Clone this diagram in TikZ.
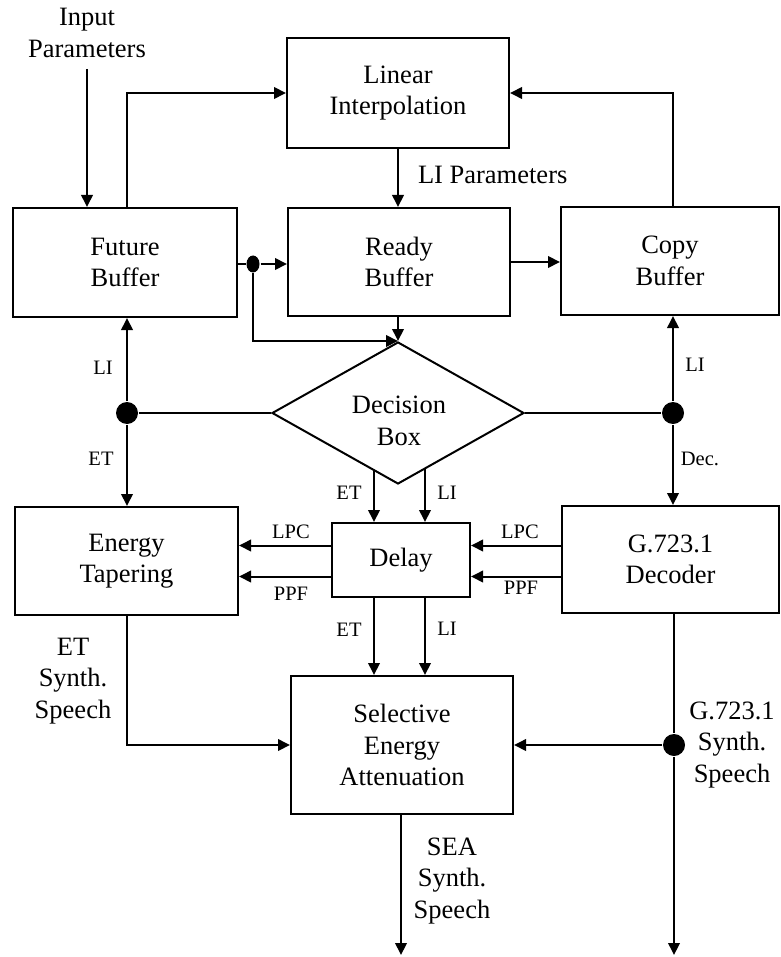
\documentclass[tikz,border=0pt]{standalone}
\usepackage{fontspec}
\setmainfont{Liberation Serif}
\usetikzlibrary{arrows.meta,shapes.geometric}
\begin{document}
\begin{tikzpicture}[x=1pt,y=-1pt,
  line width=2pt,
  big/.style={font=\fontsize{26.5}{31.5}\selectfont},
  small/.style={font=\fontsize{20.5}{24}\selectfont},
  blk/.style={draw, rectangle, big, align=center, inner sep=0pt},
  arr/.style={-{Triangle[length=12pt,width=11.5pt]}},
  lab/.style={small, inner sep=0pt},
  txt/.style={big, align=center, inner sep=0pt},
  jn/.style={circle, fill, inner sep=0pt, minimum size=22pt},
]
\useasboundingbox (0,0) rectangle (780,957);

% processing blocks
\node[blk, minimum width=224pt, minimum height=109pt] (fut) at (125,262.5) {Future\\Buffer};
\node[blk, minimum width=222pt, minimum height=110pt] (lin) at (398,93) {Linear\\Interpolation};
\node[blk, minimum width=222pt, minimum height=108pt] (rdy) at (399,262) {Ready\\Buffer};
\node[blk, minimum width=218pt, minimum height=108pt] (cpy) at (670,261) {Copy\\Buffer};
\node[draw, diamond, minimum width=252pt, minimum height=142pt, inner sep=0pt] (dec) at (398,413) {};
\node[txt] (dectxt) at (399,421) {Decision\\Box};
\node[blk, minimum width=223pt, minimum height=108pt] (en) at (126.5,561) {Energy\\Tapering};
\node[blk, minimum width=138pt, minimum height=74pt] (dly) at (401,560) {Delay};
\node[blk, minimum width=217pt, minimum height=107pt] (g7) at (670.5,559.5) {G.723.1\\Decoder};
\node[blk, minimum width=222pt, minimum height=138pt] (sea) at (402,745) {Selective\\Energy\\Attenuation};

% junction dots
\node[ellipse, fill, inner sep=0pt, minimum width=13pt, minimum height=17pt] (d0) at (253,264) {};
\node[jn] (dL) at (127,413) {};
\node[jn] (dR) at (673,413) {};
\node[jn] (dS) at (674,745) {};

% free ends
\coordinate (ip) at (87,69);
\coordinate (etA) at (374,470.5);
\coordinate (liA) at (425,468.8);
\coordinate (out1) at (401,955);
\coordinate (out2) at (674,955);

% connectors
\draw[arr] (ip) -- (ip |- fut.north);
\draw[arr] (fut.north -| dL) |- (lin.west);
\draw[arr] (cpy.north -| dR) |- (lin.east);
\draw[arr] (lin.south) -- (lin.south |- rdy.north);
\draw (fut.east |- d0) -- (d0);
\draw[arr] (d0) -- (rdy.west |- d0);
\draw[arr] (d0) |- (dec.north);
\draw[arr] (rdy.south -| dec.north) -- (dec.north);
\draw[arr] (rdy.east) -- (rdy.east -| cpy.west);
\draw (dec.west) -- (dL);
\draw (dec.east) -- (dR);
\draw[arr] (dL) -- (dL |- fut.south);
\draw[arr] (dL) -- (dL |- en.north);
\draw[arr] (dR) -- (dR |- cpy.south);
\draw[arr] (dR) -- (dR |- g7.north);
\draw[arr] (etA) -- (etA |- dly.north);
\draw[arr] (liA) -- (liA |- dly.north);
\draw[arr] (g7.west |- 0,545.5) -- (dly.east |- 0,545.5);
\draw[arr] (g7.west |- 0,576.5) -- (dly.east |- 0,576.5);
\draw[arr] (dly.west |- 0,545.5) -- (en.east |- 0,545.5);
\draw[arr] (dly.west |- 0,576.5) -- (en.east |- 0,576.5);
\draw[arr] (etA |- dly.south) -- (etA |- sea.north);
\draw[arr] (liA |- dly.south) -- (liA |- sea.north);
\draw[arr] (en.south) |- (sea.west);
\draw (g7.south -| dS) -- (dS);
\draw[arr] (dS) -- (out2);
\draw[arr] (dS) -- (sea.east |- dS);
\draw[arr] (sea.south -| out1) -- (out1);

% labels
\node[txt] (tin) at (87,33) {Input\\Parameters};
\node[big, anchor=west, inner sep=0pt] (tlip) at (417,175) {LI Parameters};
\node[lab] (l1) at (103,368) {LI};
\node[lab] (l2) at (101,459) {ET};
\node[lab] (l3) at (695,365) {LI};
\node[lab] (l4) at (700,459) {Dec.};
\node[lab] (l5) at (349,493) {ET};
\node[lab] (l6) at (447,493) {LI};
\node[lab] (l7) at (291,532) {LPC};
\node[lab] (l8) at (291,594) {PPF};
\node[lab] (l9) at (520,532) {LPC};
\node[lab] (l10) at (521,588) {PPF};
\node[lab] (l11) at (349,630) {ET};
\node[lab] (l12) at (447,629) {LI};
\node[txt] (tet) at (73,681) {ET\\Synth.\\Speech};
\node[txt] (tg7) at (732,745) {G.723.1\\Synth.\\Speech};
\node[txt] (tsea) at (452,881) {SEA\\Synth.\\Speech};
\end{tikzpicture}
\end{document}
